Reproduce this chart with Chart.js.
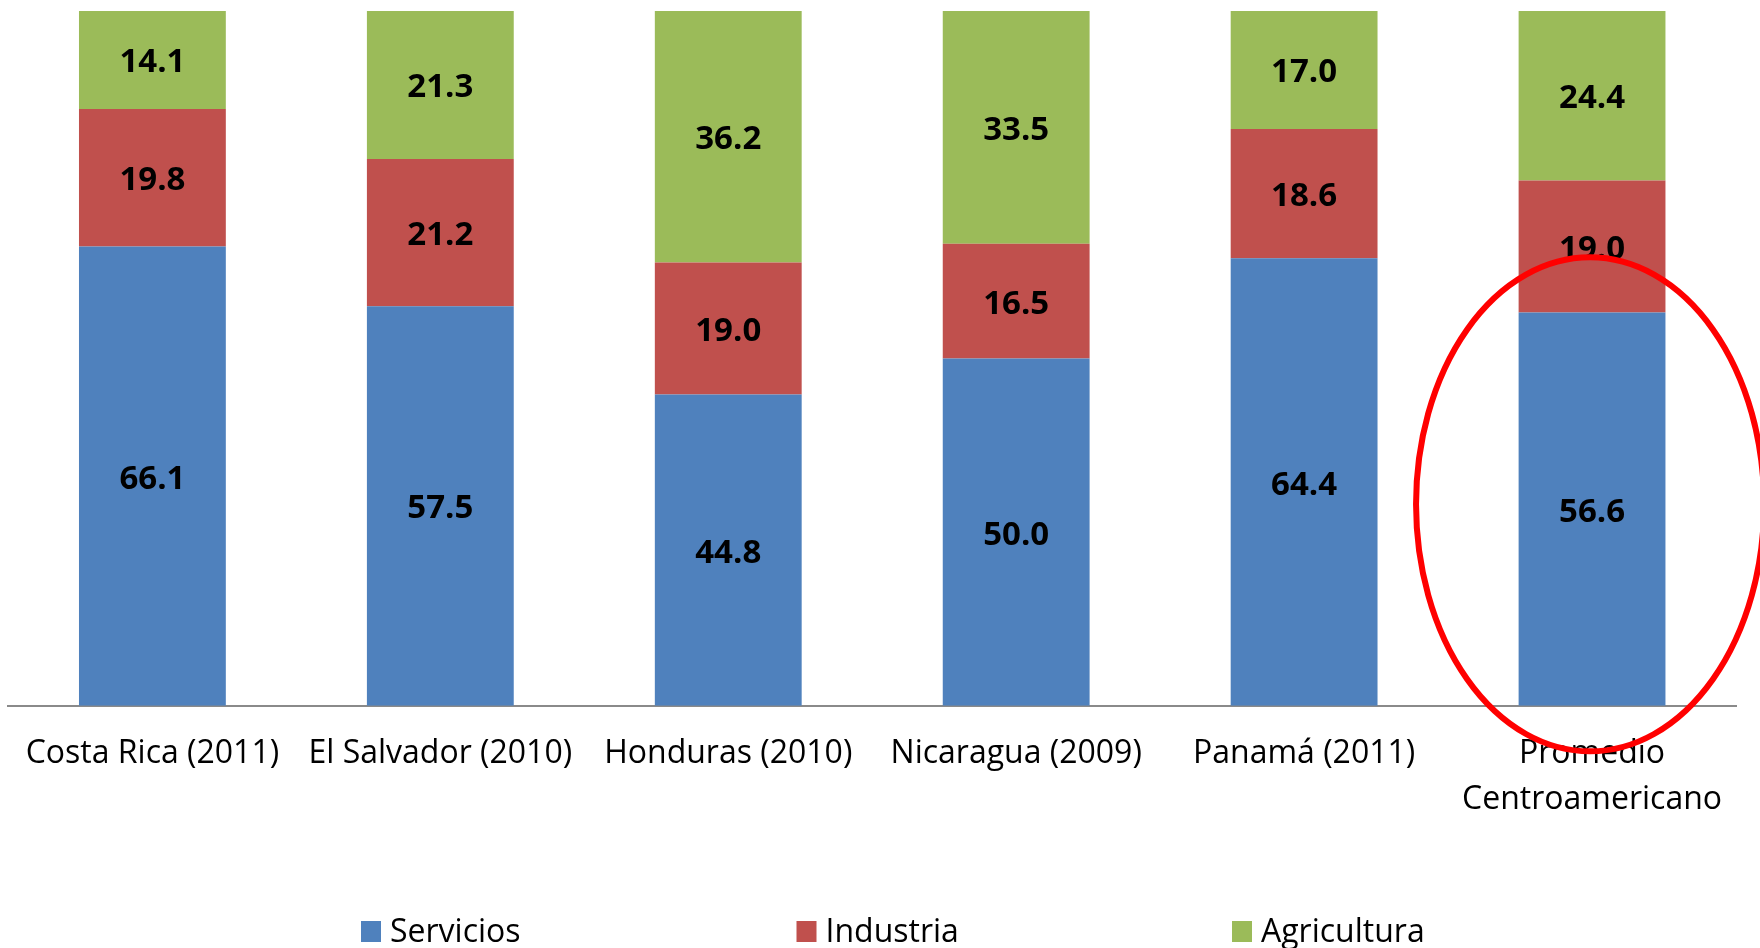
<!DOCTYPE html>
<html>
<head>
<meta charset="utf-8">
<script src="https://cdn.jsdelivr.net/npm/chart.js@4.4.1/dist/chart.umd.min.js"></script>
<style>
    html, body { margin: 0; padding: 0; background: #fff; }
    #wrap { width: 1760px; height: 948px; position: relative; }
</style>
</head>
<body>
<div id="wrap"><canvas id="sectorChart"></canvas></div>
<script>
// categories and series (percent of employment)
const countries = ['Costa Rica (2011)', 'El Salvador (2010)', 'Honduras (2010)', 'Nicaragua (2009)', 'Panamá (2011)', ['Promedio', 'Centroamericano']];
const servicios = [66.1, 57.5, 44.8, 50.0, 64.4, 56.6];
const industria = [19.8, 21.2, 19.0, 16.5, 18.6, 19.0];
const agricultura = [14.1, 21.3, 36.2, 33.5, 17.0, 24.4];
const seriesNames = ['Servicios', 'Industria', 'Agricultura'];
const seriesColors = ['#4F81BD', '#C0504D', '#9BBB59'];

const FONT = '"Open Sans", "Noto Sans", sans-serif';

// Values printed in the middle of each segment
const segmentLabels = {
    id: 'segmentLabels',
    afterDatasetsDraw(chart) {
        const c = chart.ctx;
        c.save();
        c.font = 'bold 33px ' + FONT;
        c.fillStyle = '#000';
        c.textAlign = 'center';
        c.textBaseline = 'middle';
        chart.data.datasets.forEach((ds, di) => {
            chart.getDatasetMeta(di).data.forEach((bar, i) => {
                const p = bar.getCenterPoint();
                c.fillText(ds.data[i].toFixed(1), p.x, p.y + 3);
            });
        });
        c.restore();
    }
};

// Excel-style legend with equal slots + the red highlight ellipse
const extras = {
    id: 'extras',
    afterDraw(chart) {
        const c = chart.ctx;
        const xs = chart.scales.x, ys = chart.scales.y;
        c.save();
        // highlight around the regional average
        c.strokeStyle = '#FF0000';
        c.lineWidth = 6;
        c.beginPath();
        c.ellipse(xs.getPixelForValue(5) - 2, ys.getPixelForValue(29), 174, 247, 0, 0, Math.PI * 2);
        c.stroke();

        // legend
        c.font = '32px ' + FONT;
        c.textBaseline = 'alphabetic';
        c.textAlign = 'left';
        const base = chart.height - 6;
        chart.data.datasets.forEach((ds, i) => {
            const x0 = chart.width / 2 - 519 + i * 435.5;
            c.fillStyle = ds.backgroundColor;
            c.fillRect(x0, base - 21, 20, 21);
            c.fillStyle = '#000';
            c.fillText(ds.label, x0 + 29, base);
        });
        c.restore();
    }
};

const ctx = document.getElementById('sectorChart').getContext('2d');
new Chart(ctx, {
    type: 'bar',
    data: {
        labels: countries,
        datasets: [servicios, industria, agricultura].map((vals, i) => ({
            label: seriesNames[i],
            data: vals,
            backgroundColor: seriesColors[i],
            borderWidth: 0,
            categoryPercentage: 1,
            barPercentage: 0.51
        }))
    },
    options: {
        responsive: true,
        maintainAspectRatio: false,
        animation: false,
        devicePixelRatio: 1,
        layout: { padding: { left: 8, right: 24, top: 11, bottom: 100 } },
        plugins: {
            legend: { display: false },
            tooltip: { enabled: false }
        },
        scales: {
            x: {
                stacked: true,
                grid: { display: false, drawTicks: false },
                border: { display: true, color: '#8A8A8A', width: 2 },
                ticks: {
                    color: '#000',
                    padding: 25,
                    autoSkip: false,
                    maxRotation: 0,
                    font: { family: FONT, size: 32, lineHeight: 1.44 }
                }
            },
            y: {
                stacked: true,
                display: false,
                min: 0,
                max: 100
            }
        }
    },
    plugins: [segmentLabels, extras]
});
</script>
</body>
</html>
